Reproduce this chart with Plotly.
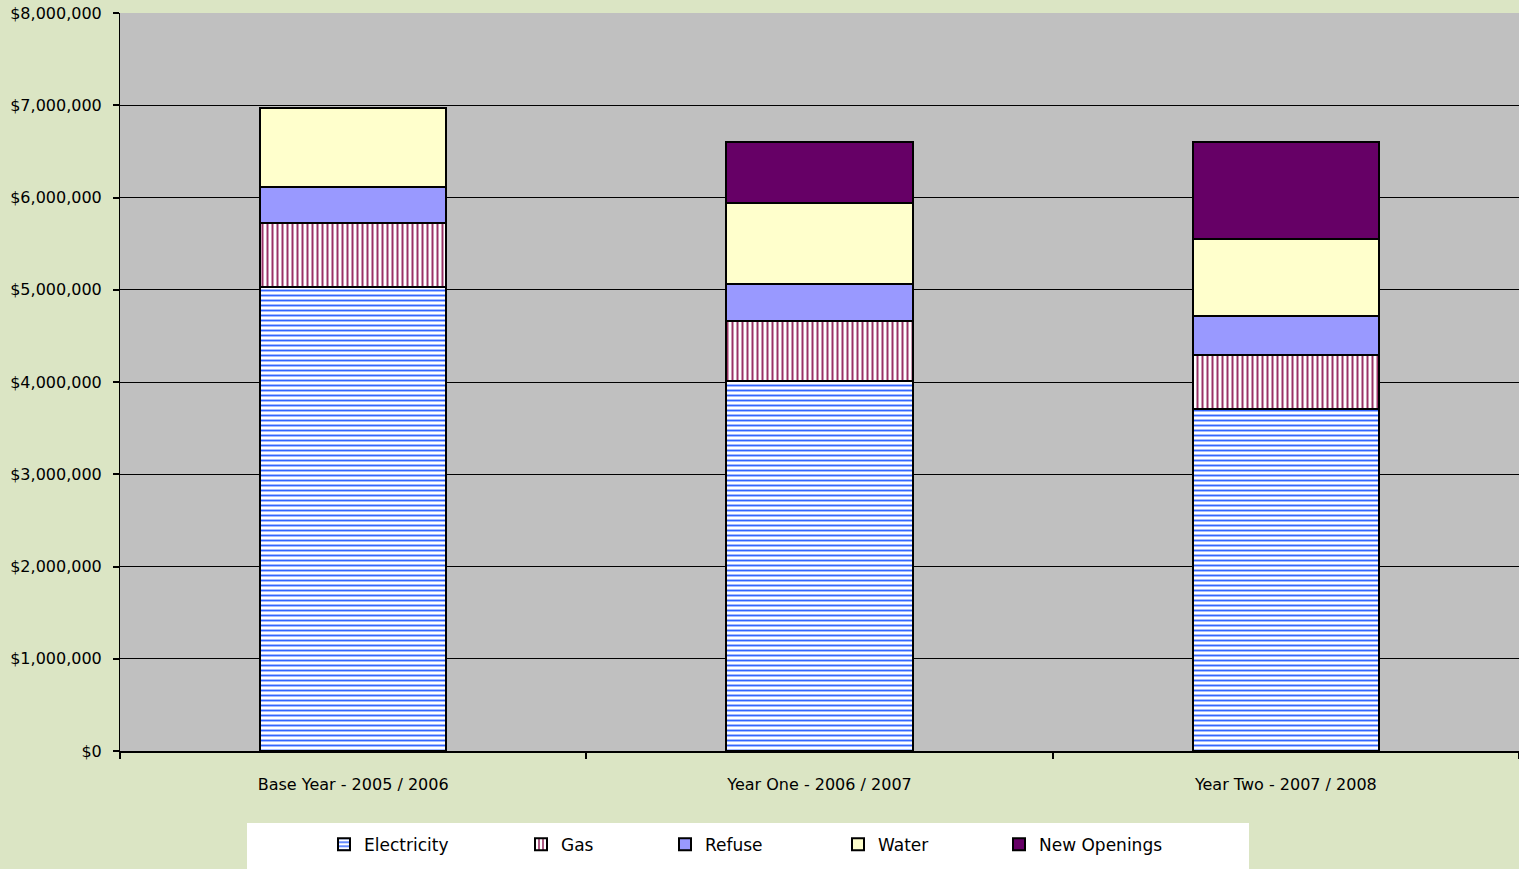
import plotly.graph_objects as go

categories = ["Base Year - 2005 / 2006", "Year One - 2006 / 2007", "Year Two - 2007 / 2008"]
electricity = [5030000, 4010000, 3710000]
gas = [690000, 650000, 580000]
refuse = [390000, 400000, 430000]
water = [860000, 880000, 830000]
new_openings = [0, 660000, 1050000]

y_tickvals = [0, 1000000, 2000000, 3000000, 4000000, 5000000, 6000000, 7000000, 8000000]
y_ticktext = ["$0", "$1,000,000", "$2,000,000", "$3,000,000", "$4,000,000",
              "$5,000,000", "$6,000,000", "$7,000,000", "$8,000,000"]

FONT = "DejaVu Sans, Arial, sans-serif"

fig = go.Figure()

series = [
    ("Electricity", electricity, dict(color="white", pattern=dict(shape="-", fgcolor="#3366FF", bgcolor="white", size=5, solidity=0.38, fillmode="replace"))),
    ("Gas", gas, dict(color="white", pattern=dict(shape="|", fgcolor="#993366", bgcolor="white", size=5, solidity=0.4, fillmode="replace"))),
    ("Refuse", refuse, dict(color="#9999FF")),
    ("Water", water, dict(color="#FFFFCC")),
    ("New Openings", new_openings, dict(color="#660066")),
]

legend_ids = ["legend", "legend2", "legend3", "legend4", "legend5"]
legend_left_px = [324, 521, 665, 838, 999]

for (name, vals, marker), lid in zip(series, legend_ids):
    marker = dict(marker)
    marker["line"] = dict(color="black", width=2)
    fig.add_trace(go.Bar(name=name, x=categories, y=vals, marker=marker, width=0.4,
                         hoverinfo="skip", legend=lid))

legend_common = dict(orientation="h", xanchor="left", y=-0.127, yanchor="middle",
                     bgcolor="rgba(0,0,0,0)",
                     font=dict(family=FONT, size=17, color="black"))
legend_layout = {}
for lid, px in zip(legend_ids, legend_left_px):
    legend_layout[lid] = dict(legend_common, x=(px - 120) / 1399)

fig.update_layout(
    barmode="stack",
    width=1519, height=869,
    margin=dict(l=120, r=0, t=13, b=118),
    paper_bgcolor="#DBE5C4",
    plot_bgcolor="#C0C0C0",
    font=dict(family=FONT, size=16, color="black"),
    showlegend=True,
    shapes=[dict(type="rect", xref="paper", yref="paper",
                 x0=(247 - 120) / 1399, x1=(1249 - 120) / 1399,
                 y0=(751 - 869) / 738, y1=(751 - 823) / 738,
                 fillcolor="white", line=dict(width=0), layer="below")],
    **legend_layout,
)

fig.update_xaxes(
    showgrid=False, showline=True, linecolor="black", linewidth=2,
    ticks="outside", tickson="boundaries", ticklen=6, tickcolor="black", tickwidth=2,
    ticklabelstandoff=18,
    tickfont=dict(family=FONT, size=16, color="black"),
)
fig.update_yaxes(
    range=[0, 8000000], tickvals=y_tickvals, ticktext=y_ticktext,
    showgrid=True, gridcolor="black", gridwidth=1,
    showline=True, linecolor="black", linewidth=1,
    ticks="outside", ticklen=6, tickcolor="black", tickwidth=2,
    ticklabelstandoff=8,
    zeroline=False,
    tickfont=dict(family=FONT, size=16, color="black"),
)

fig.write_html("out.html", config={"displayModeBar": False},
               post_script="document.body.style.margin='0';document.body.style.overflow='hidden';")
